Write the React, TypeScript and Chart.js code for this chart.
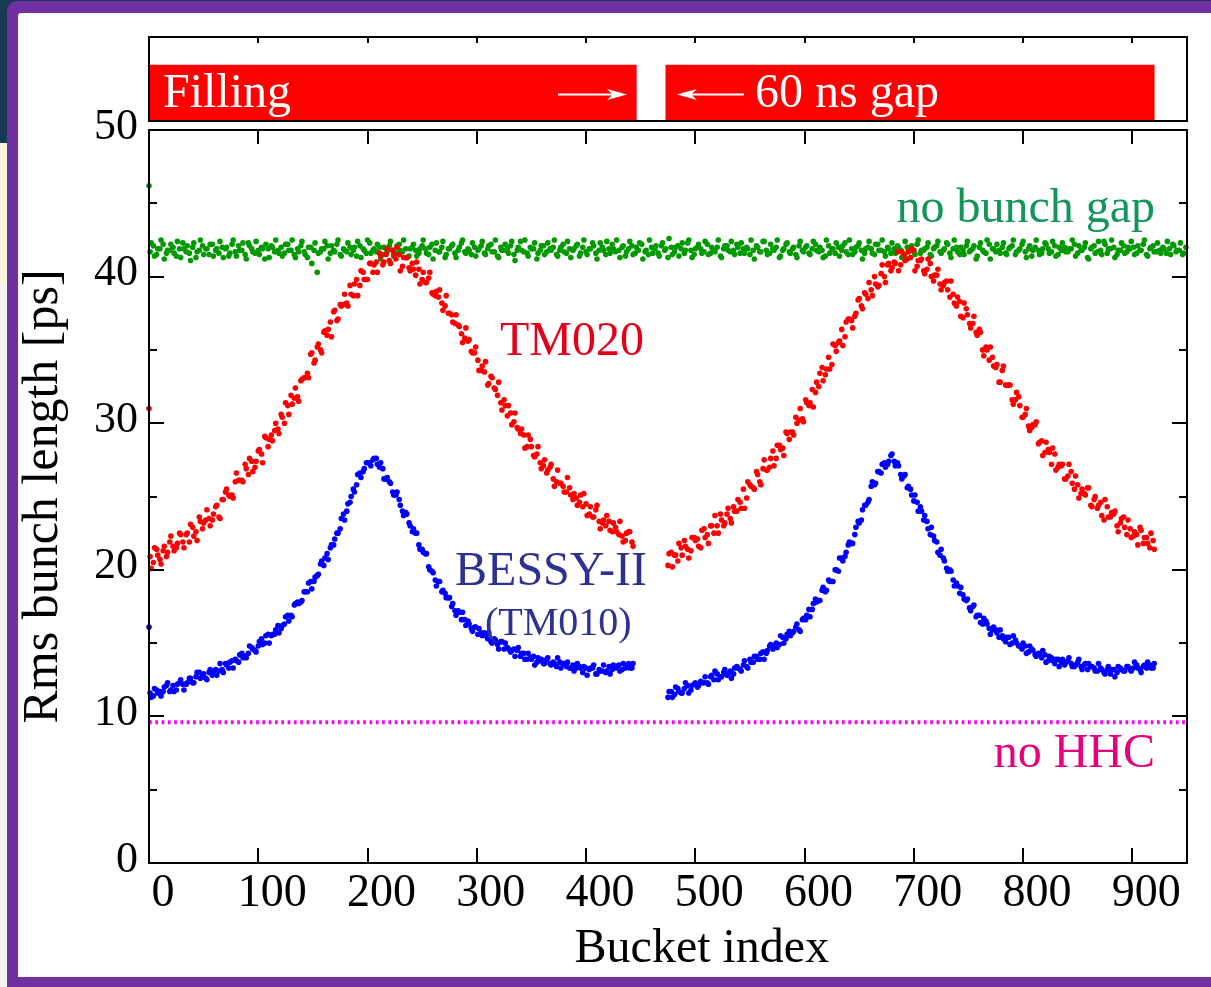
import React, { useEffect, useRef } from "react";
import { Chart, registerables } from "chart.js";

Chart.register(...registerables);

const SERIF = '"Liberation Serif", "Times New Roman", Times, serif';

// ---- axes ----
const X_MIN = 0;
const X_MAX = 950;
const Y_MIN = 0;
const Y_MAX = 50;
const X_TICKS = [0, 100, 200, 300, 400, 500, 600, 700, 800, 900];
const Y_TICKS = [0, 10, 20, 30, 40, 50];
const Y_MINOR_TICKS = [5, 15, 25, 35, 45];
const X_TITLE = "Bucket index";
const Y_TITLE = "Rms bunch length [ps]";

// ---- data: rms bunch length [ps]; each array holds every 3rd bucket from its start bucket ----
const BUCKET_STEP = 3;
const FIRST_BUCKET = 0;
const GREEN_FIRST = 46.2;
const RED_FIRST = 31.0;
const BLUE_FIRST = 16.1;

// no bunch gap (green)
const GREEN_A_START = 1;
const greenA = [
  41.7, 42.1, 41.5, 41.9, 42.2, 41.6, 41.8, 42.0, 41.4, 41.9, 42.3, 41.7, 41.6, 42.0, 41.3, 41.8, 42.1, 41.9, 41.5, 42.2,
  41.8, 41.6, 42.0, 41.9, 41.4, 42.2, 41.7, 42.1, 41.8, 41.5, 42.3, 41.9, 41.6, 41.8, 42.0, 41.2, 41.9, 42.1, 41.7, 41.8,
  42.0, 41.6, 42.2, 41.8, 41.5, 41.9, 42.1, 41.7, 41.3, 42.0, 41.8, 40.3, 41.7, 41.9, 42.1, 41.6, 41.8, 42.2, 41.5, 41.9,
  41.7, 42.0, 41.8, 41.4, 42.1, 41.9, 41.6, 42.3, 41.8, 41.7, 42.0, 41.5, 41.9, 42.1, 41.8, 41.6, 42.2, 41.7, 41.9, 41.4,
  42.0, 41.8, 41.6, 42.1, 41.9, 41.5, 42.2, 41.8, 41.7, 42.0, 41.3, 41.9, 42.1, 41.6, 41.8, 42.3, 41.7, 41.9, 41.5, 42.0,
  41.8, 42.1, 41.6, 41.9, 42.2, 41.7, 41.4, 42.0, 41.8, 41.9, 42.1, 41.5, 41.8, 42.4, 41.7, 41.6, 42.0, 41.9, 41.2, 41.8,
  42.1, 41.7, 41.9, 42.0, 41.5, 41.8, 42.2, 41.6, 41.9, 41.8, 42.1, 41.4, 42.0, 41.7, 41.9, 42.3, 41.6, 41.8, 42.0, 41.5,
  41.9, 42.2, 41.7, 41.8, 42.0, 41.4, 41.9, 42.1, 41.6, 41.8, 42.2, 41.7, 41.5, 42.0, 41.9, 41.6, 42.1, 41.8, 41.3, 42.0,
  41.7, 42.1, 41.9, 41.6, 42.3, 41.8, 41.5, 42.0, 41.9, 41.7, 42.2, 41.6, 41.8, 42.0, 41.4, 41.9, 42.1, 41.7, 41.8, 42.2,
  41.6, 41.9, 42.0, 41.5, 41.8, 42.1, 41.7, 42.4, 41.8, 41.6, 41.9, 42.0, 41.3, 41.8, 42.2, 41.7, 41.9, 41.5, 42.1, 41.8,
  42.0, 41.6, 41.9, 42.2, 41.7, 41.8, 41.4, 42.1, 41.9, 41.6, 42.0, 41.8, 42.3, 41.5, 41.9, 41.7, 42.1, 41.8, 41.6, 42.0,
  41.9, 41.5, 42.2, 41.8, 41.7, 42.0, 41.6, 41.9, 42.1, 41.8, 41.4, 42.0, 41.9, 41.7, 42.2, 41.6, 41.8, 42.0, 41.5, 41.9,
  42.1, 41.7, 41.8, 42.3, 41.6, 41.9, 42.0, 41.5, 41.8, 42.1, 41.7, 41.9, 41.2, 42.0, 41.8, 41.6, 42.2, 41.9, 41.7, 41.8,
  42.0, 41.6, 41.9, 42.1, 41.5, 41.8, 42.2, 41.7, 41.9, 41.4, 42.0, 41.8, 41.6, 42.3, 41.9, 41.7, 42.1, 41.5, 41.8, 42.0,
  41.7, 41.9, 42.2, 41.6, 41.8, 42.0, 41.3, 41.9, 42.1, 41.7, 41.8, 42.4, 41.6, 41.9, 42.0, 41.5, 41.8, 42.1, 41.7, 41.9,
  42.0, 41.6, 41.8, 42.2, 41.5, 41.9, 42.1, 41.7, 41.8, 42.0, 41.6, 41.9, 42.2, 41.7, 41.8, 41.5, 42.0,
];
const GREEN_B_START = 2;
const greenB = [
  42.3, 41.4, 41.9, 42.5, 41.2, 41.8, 42.2, 41.6, 42.4, 41.3, 41.9, 42.1, 41.1, 42.3, 41.7, 42.5, 41.5, 41.9, 42.2, 41.4,
  41.9, 42.4, 41.3, 42.0, 41.6, 42.5, 41.4, 41.8, 42.3, 41.2, 42.1, 41.7, 42.4, 41.5, 41.9, 42.2, 41.3, 42.0, 42.5, 41.6,
  41.4, 42.2, 41.8, 42.5, 41.3, 41.7, 42.4, 41.5, 42.0, 40.9, 42.3, 41.6, 41.9, 42.4, 41.2, 42.1, 41.7, 42.5, 41.4, 41.8,
  42.3, 41.5, 42.0, 42.4, 41.3, 41.8, 42.5, 41.6, 41.9, 42.2, 41.2, 42.0, 41.7, 42.4, 41.4, 42.1, 41.8, 42.5, 41.3, 41.9,
  42.2, 41.4, 41.9, 42.5, 41.6, 42.0, 41.2, 42.3, 41.7, 42.4, 41.5, 41.9, 42.2, 41.3, 42.0, 42.5, 41.6, 41.8, 42.3, 41.4,
  41.9, 42.4, 41.5, 42.1, 41.7, 42.5, 41.3, 41.8, 42.2, 41.6, 42.4, 41.1, 42.0, 41.8, 42.5, 41.4, 41.9, 42.3, 41.6, 42.1,
  41.5, 42.3, 41.8, 42.5, 41.4, 42.0, 41.7, 42.4, 41.3, 41.9, 42.2, 41.6, 42.5, 41.5, 41.9, 42.1, 41.2, 42.3, 41.8, 42.4,
  41.6, 41.9, 42.5, 41.3, 42.1, 41.7, 42.4, 41.5, 42.0, 42.3, 41.2, 41.8, 42.5, 41.6, 42.1, 41.4, 42.3, 41.9, 42.6, 41.5,
  42.0, 41.4, 42.3, 41.8, 42.5, 41.3, 41.9, 42.2, 41.6, 42.4, 41.5, 42.0, 41.7, 42.5, 41.3, 42.1, 41.8, 42.4, 41.5, 42.0,
  42.3, 41.6, 41.9, 42.5, 41.2, 42.0, 41.7, 42.4, 41.5, 42.2, 41.8, 42.5, 41.4, 41.9, 42.3, 41.6, 42.0, 41.3, 42.4, 41.7,
  42.1, 41.5, 42.4, 41.8, 42.0, 41.3, 42.5, 41.6, 41.9, 42.3, 41.4, 42.1, 41.7, 42.5, 41.5, 42.0, 42.3, 41.2, 41.9, 42.4,
  41.6, 42.2, 41.8, 42.5, 41.4, 41.9, 42.3, 41.6, 42.0, 41.3, 42.4, 41.7, 42.1, 41.5, 42.5, 41.8, 41.9, 42.3, 41.4, 42.0,
  42.4, 41.6, 41.9, 42.2, 41.3, 42.5, 41.7, 42.0, 41.5, 42.4, 41.8, 42.1, 41.4, 42.3, 41.7, 42.5, 41.2, 41.9, 42.2, 41.6,
  42.3, 41.5, 42.0, 42.5, 41.7, 41.9, 42.4, 41.3, 42.1, 41.8, 42.5, 41.5, 41.9, 42.2, 41.6, 42.4, 41.4, 42.0, 42.3, 41.7,
  41.9, 42.5, 41.4, 42.1, 41.8, 42.3, 41.2, 42.0, 41.6, 42.4, 41.5, 42.2, 41.9, 42.5, 41.3, 41.8, 42.3, 41.6, 42.0, 42.4,
  41.5, 42.1, 41.8, 42.5, 41.4, 42.0, 41.7, 42.3, 41.6, 41.9, 42.4, 41.5, 42.1, 41.8, 42.3, 41.6,
];

// TM020 (red), first train
const RED1_A_START = 1;
const red1A = [
  20.9, 20.5, 21.4, 20.7, 21.3, 20.9, 21.9, 21.6, 21.5, 22.5,
  21.9, 22.4, 21.9, 22.9, 22.6, 23.6, 22.8, 23.4, 23.5, 23.4,
  24.3, 23.6, 24.8, 25.3, 25.1, 25.1, 26.0, 26.1, 26.1, 27.2,
  26.5, 27.4, 27.0, 28.1, 27.9, 29.1, 28.4, 29.2, 29.5, 29.6,
  30.6, 30.0, 31.2, 31.9, 31.7, 31.8, 32.9, 33.1, 33.4, 34.7,
  34.1, 35.2, 35.0, 36.2, 36.0, 36.9, 37.6, 37.0, 38.1, 38.1,
  38.2, 39.4, 38.7, 39.8, 39.4, 40.3, 39.8, 40.9, 40.3, 41.0,
  41.6, 40.8, 41.5, 41.1, 41.8, 41.2, 41.5, 40.7, 41.3, 40.6,
  40.9, 40.1, 40.5, 39.8, 39.6, 39.9, 38.9, 38.7, 38.6, 38.2,
  38.0, 37.5, 37.4, 36.8, 36.7, 36.1, 35.8, 35.6, 34.9, 34.8,
  34.3, 33.6, 33.5, 32.6, 33.2, 32.4, 31.9, 31.4, 31.6, 30.5,
  30.7, 30.1, 29.7, 29.3, 29.2, 28.4, 28.9, 27.8, 27.9, 27.3,
  27.1, 26.6, 27.0, 26.2, 26.0, 25.9, 25.7, 25.3, 25.6, 24.8,
  24.9, 24.6, 24.3, 24.5, 23.8, 23.6, 24.1, 23.3, 23.2, 23.0,
  23.3, 22.6, 22.9, 22.4, 22.3, 22.0, 22.6, 21.9,
];
const RED1_B_START = 2;
const red1B = [
  20.1, 21.5, 21.0, 20.4, 21.6, 21.2, 22.3, 21.3, 21.8, 22.4,
  21.5, 22.5, 23.1, 22.3, 22.0, 23.3, 23.2, 24.1, 23.0, 23.8,
  24.4, 23.5, 24.8, 25.5, 25.0, 24.9, 26.6, 26.1, 26.0, 26.9,
  27.6, 26.7, 27.4, 28.2, 27.3, 29.0, 28.9, 28.8, 30.0, 29.3,
  30.4, 31.4, 30.6, 31.3, 32.4, 31.5, 33.0, 33.1, 33.1, 34.8,
  34.3, 35.4, 34.8, 36.3, 36.4, 35.9, 37.7, 37.1, 38.0, 38.8,
  38.0, 38.8, 39.5, 38.7, 40.4, 39.8, 39.8, 40.9, 40.8, 40.3,
  41.4, 41.0, 41.9, 40.9, 41.5, 42.0, 40.4, 41.3, 41.3, 40.4,
  40.5, 41.0, 39.5, 40.3, 39.6, 40.3, 38.8, 39.0, 39.1, 37.7,
  38.7, 37.5, 36.9, 37.4, 36.6, 35.5, 36.5, 35.7, 34.8, 35.2,
  33.6, 33.9, 34.2, 32.7, 33.1, 32.3, 32.8, 30.9, 31.2, 31.2,
  29.9, 30.7, 29.6, 29.6, 28.3, 29.2, 28.4, 27.7, 28.4, 26.9,
  27.5, 26.8, 27.2, 25.7, 26.8, 25.9, 25.3, 26.3, 25.1, 25.2,
  24.4, 25.1, 25.2, 23.7, 24.3, 23.6, 24.4, 22.8, 23.4, 23.7,
  22.7, 23.2, 22.6, 23.3, 21.9, 22.5, 22.6, 21.6,
];

// TM020 (red), second train
const RED2_A_START = 475;
const red2A = [
  20.3, 21.2, 21.0, 20.6, 21.5, 22.0, 21.4, 21.3, 22.2, 22.1,
  21.5, 22.8, 22.4, 23.0, 22.5, 23.0, 23.8, 23.0, 23.8, 23.5,
  24.3, 24.0, 24.6, 25.5, 24.9, 25.8, 25.6, 26.7, 26.0, 26.9,
  26.8, 27.0, 28.1, 27.6, 28.5, 28.3, 29.4, 28.9, 29.4, 30.4,
  30.2, 30.3, 31.6, 31.2, 32.3, 32.1, 32.5, 33.8, 33.3, 34.5,
  34.0, 35.3, 35.5, 36.4, 35.9, 37.1, 37.0, 37.3, 38.4, 38.0,
  38.9, 38.5, 39.1, 40.0, 39.3, 40.2, 40.0, 40.8, 40.4, 41.0,
  41.7, 40.8, 41.5, 41.2, 41.3, 41.8, 40.7, 41.1, 40.4, 40.5,
  40.9, 39.7, 40.1, 39.5, 39.4, 39.7, 38.6, 38.8, 38.0, 38.3,
  37.2, 37.8, 36.8, 36.8, 36.2, 36.4, 35.0, 35.2, 34.3, 34.5,
  33.8, 32.8, 33.6, 32.6, 32.6, 31.6, 31.6, 31.8, 30.4, 30.6,
  29.8, 29.7, 29.9, 28.6, 28.8, 28.0, 28.2, 27.2, 27.9, 27.0,
  27.1, 26.2, 26.4, 26.7, 25.5, 25.8, 25.2, 25.2, 25.6, 24.4,
  24.8, 24.2, 24.6, 23.4, 24.3, 23.6, 23.8, 23.0, 23.2, 23.6,
  22.4, 22.8, 22.3, 22.4, 22.9, 21.8, 22.2, 21.5, 22.0,
];
const RED2_B_START = 476;
const red2B = [
  21.1, 20.2, 21.0, 21.8, 21.0, 21.6, 20.8, 22.2, 22.0, 21.6,
  22.7, 22.2, 21.8, 23.0, 23.7, 22.5, 23.4, 23.2, 24.2, 23.2,
  24.0, 24.8, 24.2, 24.2, 26.0, 25.7, 25.5, 26.5, 25.8, 27.5,
  26.8, 27.6, 27.1, 28.5, 28.2, 27.8, 29.3, 29.4, 29.2, 30.0,
  31.0, 30.1, 31.4, 31.4, 31.1, 32.8, 33.4, 32.9, 33.7, 33.7,
  35.4, 34.9, 35.6, 35.3, 36.9, 37.1, 36.5, 37.5, 38.5, 37.8,
  38.8, 39.6, 38.7, 39.5, 39.4, 40.8, 39.6, 40.9, 40.6, 40.9,
  40.4, 41.7, 41.1, 41.7, 41.9, 40.4, 41.1, 41.2, 40.2, 41.2,
  40.0, 40.1, 40.5, 39.1, 39.6, 39.1, 39.7, 38.2, 38.6, 37.3,
  38.2, 37.4, 36.5, 37.3, 36.0, 36.2, 34.6, 35.0, 35.2, 33.9,
  34.0, 32.8, 33.9, 32.6, 32.6, 31.3, 32.1, 31.2, 30.4, 31.0,
  29.5, 29.9, 30.1, 28.7, 27.8, 28.7, 28.0, 28.3, 26.8, 27.2,
  27.2, 26.2, 27.2, 25.9, 26.4, 24.9, 25.5, 25.1, 25.6, 24.3,
  25.0, 24.4, 23.7, 24.8, 23.6, 23.9, 24.0, 22.6, 23.5, 22.9,
  23.4, 22.2, 22.6, 21.7, 22.7, 22.2, 21.8, 22.5, 21.4,
];

// BESSY-II TM010 (blue), first train
const BLUE1_A_START = 1;
const blue1A = [
  11.6, 11.4, 11.8, 11.7, 11.7, 12.1, 11.7, 12.1, 11.8, 12.3,
  12.2, 12.2, 12.6, 12.3, 12.7, 13.0, 12.7, 12.6, 13.0, 12.8,
  13.2, 13.1, 13.2, 13.6, 13.3, 13.8, 13.9, 13.7, 14.3, 14.1,
  14.3, 14.7, 14.5, 14.8, 15.3, 15.0, 15.6, 15.5, 15.6, 16.2,
  16.0, 16.3, 16.9, 16.9, 17.6, 17.8, 17.8, 18.5, 18.5, 19.2,
  19.2, 19.6, 20.4, 20.3, 21.1, 21.5, 21.7, 22.5, 22.8, 23.8,
  24.0, 24.6, 25.5, 25.8, 26.6, 26.7, 27.3, 27.3, 27.5, 27.6,
  27.0, 26.9, 26.2, 26.0, 25.3, 25.1, 24.8, 24.0, 23.9, 23.2,
  22.6, 22.5, 21.7, 21.4, 21.1, 20.2, 19.9, 19.3, 19.2, 18.5,
  18.4, 18.1, 17.5, 17.2, 17.2, 16.6, 16.6, 16.5, 16.0, 16.1,
  15.6, 15.7, 15.7, 15.3, 15.1, 15.3, 14.9, 15.1, 14.6, 14.7,
  14.4, 14.6, 14.5, 14.1, 14.3, 13.9, 14.0, 14.1, 13.7, 13.8,
  13.6, 13.9, 13.6, 13.7, 13.4, 13.7, 13.6, 13.4, 13.3, 13.5,
  13.3, 13.4, 13.0, 13.3, 13.2, 13.3, 12.9, 13.2, 13.1, 13.0,
  13.4, 13.2, 13.3, 13.5, 13.2, 13.3, 13.6, 13.3,
];
const BLUE1_B_START = 2;
const blue1B = [
  11.3, 11.9, 11.6, 11.4, 12.0, 12.3, 11.8, 11.7, 12.2, 12.5,
  11.8, 12.3, 12.6, 12.3, 13.0, 12.6, 12.9, 12.5, 13.2, 13.0,
  12.8, 13.6, 13.0, 13.5, 13.7, 13.3, 13.8, 14.2, 14.0, 14.0,
  14.8, 14.6, 14.4, 15.1, 14.9, 15.5, 15.0, 15.6, 15.9, 15.7,
  16.2, 16.8, 16.5, 16.8, 17.7, 17.7, 17.9, 18.5, 19.1, 18.7,
  19.5, 19.7, 20.6, 20.8, 20.7, 21.7, 22.1, 22.5, 23.5, 23.4,
  24.5, 25.0, 25.3, 26.5, 26.3, 26.9, 27.3, 27.1, 27.6, 27.2,
  27.3, 26.2, 26.3, 25.9, 25.1, 25.3, 24.4, 23.7, 23.8, 23.0,
  22.8, 22.5, 21.4, 21.2, 21.1, 20.0, 19.8, 18.9, 19.2, 18.6,
  18.1, 18.1, 17.7, 16.9, 17.1, 17.1, 16.2, 16.3, 15.8, 16.1,
  16.0, 15.5, 15.5, 15.7, 15.0, 15.2, 14.6, 15.1, 15.0, 14.6,
  14.5, 14.1, 14.7, 14.3, 13.9, 14.3, 13.9, 13.5, 14.0, 13.9,
  13.6, 14.0, 13.5, 13.6, 14.0, 13.3, 13.6, 13.7, 13.3, 13.1,
  13.6, 13.3, 13.4, 12.8, 13.3, 13.5, 12.9, 13.1, 13.5, 13.1,
  12.9, 13.5, 13.4, 13.1, 13.6, 13.4, 13.3, 13.6,
];

// BESSY-II TM010 (blue), second train
const BLUE2_A_START = 475;
const blue2A = [
  11.3, 11.7, 11.5, 11.9, 11.6, 11.9, 12.1, 11.8, 12.2, 12.0,
  12.4, 12.3, 12.3, 12.7, 12.5, 12.9, 12.7, 13.0, 12.8, 13.1,
  12.9, 13.4, 13.2, 13.5, 13.4, 13.9, 13.7, 14.1, 13.9, 14.4,
  14.3, 14.8, 14.6, 15.0, 14.9, 15.4, 15.3, 15.8, 15.7, 16.1,
  15.9, 16.6, 16.6, 17.3, 17.3, 18.0, 17.9, 18.6, 18.5, 19.3,
  19.2, 20.0, 19.9, 20.8, 20.9, 21.7, 21.8, 22.4, 23.3, 23.4,
  24.4, 24.6, 25.7, 25.8, 26.7, 26.6, 27.3, 27.2, 27.8, 27.4,
  27.3, 26.5, 26.4, 25.6, 25.5, 24.7, 24.6, 24.3, 23.4, 23.3,
  22.4, 22.3, 21.9, 21.0, 20.8, 20.1, 20.0, 19.3, 19.1, 18.4,
  18.3, 17.9, 17.4, 17.5, 16.8, 16.9, 16.3, 16.5, 16.0, 15.9,
  15.9, 15.4, 15.5, 15.1, 15.4, 15.0, 15.2, 14.8, 14.6, 14.8,
  14.4, 14.6, 14.2, 14.3, 14.0, 14.2, 13.8, 14.0, 13.6, 13.9,
  13.7, 13.5, 13.8, 13.6, 13.4, 13.7, 13.4, 13.5, 13.2, 13.4,
  13.3, 13.1, 13.3, 13.0, 13.2, 12.9, 13.2, 13.0, 13.3, 13.1,
  13.4, 13.2, 13.3, 13.5, 13.2, 13.4, 13.3, 13.5, 13.3,
];
const BLUE2_B_START = 476;
const blue2B = [
  11.7, 11.3, 12.0, 11.7, 11.6, 12.3, 11.6, 12.1, 12.3, 12.1,
  12.3, 12.7, 12.2, 12.8, 13.1, 12.5, 12.7, 13.2, 12.9, 12.6,
  13.3, 13.3, 13.1, 13.8, 13.3, 13.7, 14.1, 13.9, 14.3, 13.9,
  14.5, 14.9, 14.8, 14.7, 15.5, 15.0, 15.6, 15.5, 15.8, 16.3,
  15.8, 16.7, 16.9, 16.8, 17.7, 17.8, 17.9, 18.8, 18.6, 19.2,
  19.2, 20.0, 20.8, 20.6, 21.2, 21.9, 21.8, 22.9, 23.2, 24.1,
  24.4, 24.8, 26.0, 25.9, 26.7, 27.2, 27.0, 27.4, 27.9, 27.1,
  27.1, 26.2, 26.5, 25.7, 25.1, 25.1, 24.0, 24.0, 23.7, 22.8,
  22.9, 22.0, 21.2, 21.4, 20.6, 19.9, 19.9, 18.9, 18.9, 18.8,
  18.0, 18.0, 17.2, 17.6, 16.9, 16.4, 16.7, 16.3, 15.6, 16.1,
  15.7, 15.9, 15.3, 15.4, 14.9, 15.5, 15.0, 14.8, 15.0, 14.3,
  14.8, 14.5, 14.1, 14.2, 14.5, 13.7, 14.1, 13.8, 13.9, 13.4,
  13.9, 13.7, 14.0, 13.4, 13.5, 13.9, 13.2, 13.6, 13.6, 13.4,
  13.1, 13.6, 13.2, 12.9, 13.4, 13.2, 12.7, 13.4, 13.2, 13.1,
  13.4, 13.1, 13.7, 13.3, 13.0, 13.5, 13.7, 13.3, 13.6,
];

// no HHC reference level
const NO_HHC_LEVEL = 9.6;

// filling pattern (bucket ranges of the two filled trains)
const FILL_TRAINS = [
  [-1, 446],
  [473, 920],
];
const FILL_BAR_LEVEL = -0.36;

// ---- colours ----
const C_GREEN = "#009a00";
const C_RED = "#ff0000";
const C_BLUE = "#0000ff";
const C_MAGENTA = "#ff00ff";

const toPoints = (start: number, values: number[]) =>
  values.map((y, i) => ({ x: start + i * BUCKET_STEP, y }));

const scatterSet = (label: string, color: string, data: any[]) => ({
  type: "scatter",
  label,
  data,
  showLine: false,
  pointRadius: 2.8,
  pointHoverRadius: 2.8,
  pointBorderWidth: 0,
  pointBackgroundColor: color,
  backgroundColor: color,
  borderColor: color,
  clip: false,
});

function strokeLine(ctx: any, x0: number, y0: number, x1: number, y1: number) {
  ctx.beginPath();
  ctx.moveTo(x0, y0);
  ctx.lineTo(x1, y1);
  ctx.stroke();
}

function drawArrow(ctx: any, x0: number, x1: number, y: number) {
  const dir = Math.sign(x1 - x0);
  const headLen = 20;
  const half = 5.5;
  ctx.lineWidth = 2;
  strokeLine(ctx, x0, y, x1 - dir * headLen * 0.7, y);
  ctx.beginPath();
  ctx.moveTo(x1, y);
  ctx.lineTo(x1 - dir * headLen, y - half);
  ctx.lineTo(x1 - dir * headLen * 0.72, y);
  ctx.lineTo(x1 - dir * headLen, y + half);
  ctx.closePath();
  ctx.fill();
}

const mainDecor = {
  id: "mainDecor",
  afterDatasetsDraw(chart: any) {
    const { ctx, chartArea: a, scales } = chart;
    const x = scales.x;
    const y = scales.y;
    ctx.save();
    ctx.strokeStyle = "#000";
    ctx.lineWidth = 2;
    ctx.strokeRect(a.left, a.top, a.right - a.left, a.bottom - a.top);
    Y_TICKS.forEach((v) => {
      const py = Math.round(y.getPixelForValue(v));
      strokeLine(ctx, a.left, py, a.left + 15, py);
      strokeLine(ctx, a.right, py, a.right - 15, py);
    });
    Y_MINOR_TICKS.forEach((v) => {
      const py = Math.round(y.getPixelForValue(v));
      strokeLine(ctx, a.left, py, a.left + 8, py);
      strokeLine(ctx, a.right, py, a.right - 8, py);
    });
    X_TICKS.forEach((v) => {
      const px = Math.round(x.getPixelForValue(v));
      strokeLine(ctx, px, a.bottom, px, a.bottom - 15);
      strokeLine(ctx, px, a.top, px, a.top + 14);
    });

    const label = (text: string, bx: number, vy: number, color: string, size: number, align: string) => {
      ctx.font = `${size}px ${SERIF}`;
      ctx.fillStyle = color;
      ctx.textAlign = align;
      ctx.textBaseline = "alphabetic";
      ctx.fillText(text, x.getPixelForValue(bx), y.getPixelForValue(vy));
    };
    label("no bunch gap", 920.7, 43.72, "#12965a", 48, "right");
    label("TM020", 321.2, 34.65, "#e3001b", 48, "left");
    label("BESSY-II", 280.1, 18.96, "#2e3192", 48, "left");
    label("(TM010)", 307.5, 15.55, "#2e3192", 40, "left");
    label("no HHC", 920.7, 6.55, "#e5007e", 48, "right");

    // x-axis title (sits right of the axis centre in the original figure)
    ctx.font = `48px ${SERIF}`;
    ctx.fillStyle = "#000";
    ctx.textAlign = "center";
    ctx.textBaseline = "alphabetic";
    ctx.fillText(X_TITLE, x.getPixelForValue(506), a.bottom + 99);
    ctx.restore();
  },
};

const topDecor = {
  id: "topDecor",
  afterDatasetsDraw(chart: any) {
    const { ctx, chartArea: a, scales } = chart;
    const x = scales.x;
    ctx.save();
    ctx.strokeStyle = "#000";
    ctx.lineWidth = 2;
    ctx.strokeRect(a.left, a.top, a.right - a.left, a.bottom - a.top);
    X_TICKS.forEach((v) => {
      const px = Math.round(x.getPixelForValue(v));
      strokeLine(ctx, px, a.top, px, a.top + 6);
    });
    ctx.fillStyle = "#ffffff";
    ctx.strokeStyle = "#ffffff";
    ctx.font = `48px ${SERIF}`;
    ctx.textAlign = "left";
    ctx.textBaseline = "alphabetic";
    ctx.fillText("Filling", x.getPixelForValue(12.8), a.top + 70);
    ctx.fillText("60 ns gap", x.getPixelForValue(554.6), a.top + 70);
    drawArrow(ctx, x.getPixelForValue(374.3), x.getPixelForValue(437.5), a.top + 57.5);
    drawArrow(ctx, x.getPixelForValue(544.6), x.getPixelForValue(483.2), a.top + 57.5);
    ctx.restore();
  },
};

export default function App() {
  const mainRef = useRef<HTMLCanvasElement | null>(null);
  const topRef = useRef<HTMLCanvasElement | null>(null);

  useEffect(() => {
    const tickFont = (size: number) => ({ family: SERIF, size });

    const mainChart = new Chart(mainRef.current as any, {
      type: "scatter",
      data: {
        datasets: [
          scatterSet("TM020", C_RED, [
            { x: FIRST_BUCKET, y: RED_FIRST },
            ...toPoints(RED1_A_START, red1A),
            ...toPoints(RED1_B_START, red1B),
            ...toPoints(RED2_A_START, red2A),
            ...toPoints(RED2_B_START, red2B),
          ]),
          scatterSet("BESSY-II (TM010)", C_BLUE, [
            { x: FIRST_BUCKET, y: BLUE_FIRST },
            ...toPoints(BLUE1_A_START, blue1A),
            ...toPoints(BLUE1_B_START, blue1B),
            ...toPoints(BLUE2_A_START, blue2A),
            ...toPoints(BLUE2_B_START, blue2B),
          ]),
          scatterSet("no bunch gap", C_GREEN, [
            { x: FIRST_BUCKET, y: GREEN_FIRST },
            ...toPoints(GREEN_A_START, greenA),
            ...toPoints(GREEN_B_START, greenB),
          ]),
          {
            type: "line",
            label: "no HHC",
            data: [
              { x: X_MIN, y: NO_HHC_LEVEL },
              { x: X_MAX, y: NO_HHC_LEVEL },
            ],
            showLine: true,
            borderColor: C_MAGENTA,
            borderWidth: 4,
            borderDash: [2.7, 3.6],
            borderCapStyle: "butt",
            pointRadius: 0,
            fill: false,
          },
        ],
      } as any,
      options: {
        animation: false,
        responsive: false,
        maintainAspectRatio: false,
        events: [],
        layout: { padding: { left: 19, right: 24, top: 130, bottom: 0 } },
        plugins: {
          legend: { display: false },
          tooltip: { enabled: false },
        },
        scales: {
          x: {
            type: "linear",
            position: "bottom",
            min: X_MIN,
            max: X_MAX,
            afterBuildTicks: (s: any) => {
              s.ticks = X_TICKS.map((value) => ({ value }));
            },
            afterFit: (s: any) => {
              s.height = 124;
            },
            grid: { display: false, drawTicks: false },
            border: { display: false },
            ticks: {
              color: "#000",
              font: tickFont(46),
              padding: 3,
              labelOffset: 14,
              maxRotation: 0,
              autoSkip: false,
            },
            title: { display: false, text: X_TITLE },
          },
          y: {
            type: "linear",
            position: "left",
            min: Y_MIN,
            max: Y_MAX,
            afterBuildTicks: (s: any) => {
              s.ticks = Y_TICKS.map((value) => ({ value }));
            },
            afterFit: (s: any) => {
              s.width = 130;
            },
            grid: { display: false, drawTicks: false },
            border: { display: false },
            ticks: {
              color: "#000",
              font: tickFont(44),
              padding: 11,
              labelOffset: -3,
              autoSkip: false,
            },
            title: {
              display: true,
              text: Y_TITLE,
              color: "#000",
              font: { family: SERIF, size: 50, lineHeight: 1 },
              padding: { top: 0, bottom: 0 },
            },
          },
        },
      } as any,
      plugins: [mainDecor],
    });

    const topChart = new Chart(topRef.current as any, {
      type: "bar",
      data: {
        datasets: [
          {
            label: "Filling",
            data: FILL_TRAINS.map(([s, e]) => ({ x: [s, e], y: FILL_BAR_LEVEL })),
            backgroundColor: C_RED,
            borderWidth: 0,
            barThickness: 58,
          },
        ],
      } as any,
      options: {
        indexAxis: "y",
        animation: false,
        responsive: false,
        maintainAspectRatio: false,
        events: [],
        layout: { padding: { left: 149, right: 24, top: 7, bottom: 9 } },
        plugins: {
          legend: { display: false },
          tooltip: { enabled: false },
        },
        scales: {
          x: { type: "linear", min: X_MIN, max: X_MAX, display: false, offset: false },
          y: { type: "linear", min: -1, max: 1, display: false, offset: false },
        },
      } as any,
      plugins: [topDecor],
    });

    return () => {
      mainChart.destroy();
      topChart.destroy();
    };
  }, []);

  return (
    <div
      style={{
        position: "absolute",
        left: 0,
        top: 0,
        width: 1211,
        height: 987,
        overflow: "hidden",
        background: "#f4f4f4",
      }}
    >
      <div style={{ position: "absolute", left: 0, top: 0, width: 1211, height: 143, background: "#163b52" }} />
      <div style={{ position: "absolute", left: 0, top: 143, width: 10, height: 140, background: "#fbf5dc" }} />
      <div
        style={{
          position: "absolute",
          left: 7,
          top: 1,
          width: 1220,
          height: 990,
          background: "#7030a0",
          borderTopLeftRadius: 10,
        }}
      />
      <div
        style={{
          position: "absolute",
          left: 18,
          top: 13,
          width: 1210,
          height: 964,
          background: "#ffffff",
          borderTopLeftRadius: 3,
        }}
      />
      <canvas
        ref={mainRef}
        width={1211}
        height={987}
        style={{ position: "absolute", left: 0, top: 0, width: 1211, height: 987, display: "block" }}
      />
      <canvas
        ref={topRef}
        width={1211}
        height={100}
        style={{ position: "absolute", left: 0, top: 30, width: 1211, height: 100, display: "block" }}
      />
    </div>
  );
}
